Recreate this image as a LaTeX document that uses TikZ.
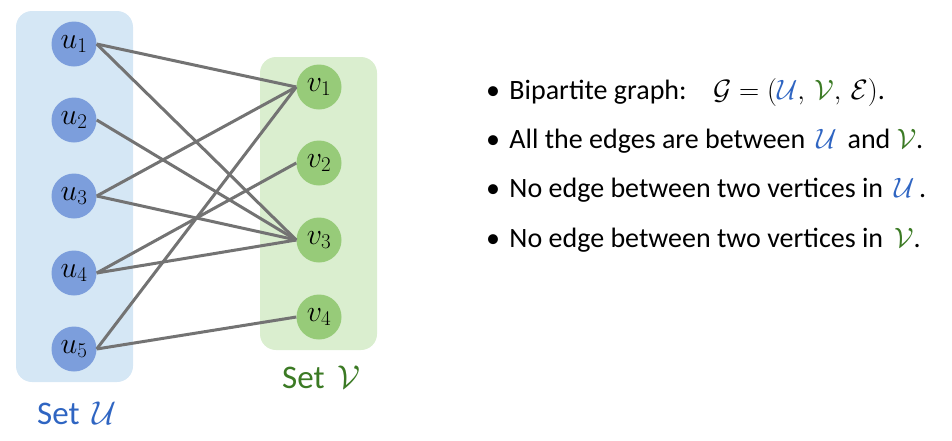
\RequirePackage{fix-cm}
\documentclass[tikz,border=0pt]{standalone}
\usepackage{amsmath,amssymb}
\usepackage{fontspec}
\setmainfont{Carlito}
\usepackage{tikz}
\usetikzlibrary{positioning}
\definecolor{setublue}{HTML}{D5E7F5}
\definecolor{setvgreen}{HTML}{DAEECF}
\definecolor{nodeblue}{HTML}{7C9EDC}
\definecolor{nodegreen}{HTML}{97CB79}
\definecolor{edgegray}{HTML}{737373}
\definecolor{labelblue}{HTML}{2F65C2}
\definecolor{labelgreen}{HTML}{3B7A24}
\tikzset{
  uvert/.style={circle,fill=nodeblue,minimum size=45pt,inner sep=0pt,font=\fontsize{30}{33}\selectfont},
  vvert/.style={circle,fill=nodegreen,minimum size=45pt,inner sep=0pt,font=\fontsize{30}{33}\selectfont},
  gedge/.style={edgegray,line width=3pt},
  setlabel/.style={anchor=base west,inner sep=0pt,font=\fontsize{33}{38}\selectfont},
  bullet/.style={anchor=base west,inner sep=0pt,font=\fontsize{28}{34}\selectfont}
}
\newcommand{\bpt}{\textbullet\hspace{3pt}\ }

\begin{document}
\begin{tikzpicture}[x=1pt,y=-1pt]
  \useasboundingbox (0,0) rectangle (952,440);
  % the two vertex sets
  \fill[setublue,rounded corners=16pt] (16,11) rectangle (133,382);
  \fill[setvgreen,rounded corners=16pt] (260,57) rectangle (377,350);
  % vertices of U
  \node[uvert] (u1) at (74,44) {$u_1$};
  \node[uvert] (u2) at (74,120) {$u_2$};
  \node[uvert] (u3) at (74,196) {$u_3$};
  \node[uvert] (u4) at (74,273) {$u_4$};
  \node[uvert] (u5) at (74,349) {$u_5$};
  % vertices of V
  \node[vvert] (v1) at (319,87) {$v_1$};
  \node[vvert] (v2) at (319,163) {$v_2$};
  \node[vvert] (v3) at (319,240) {$v_3$};
  \node[vvert] (v4) at (319,317) {$v_4$};
  % edges
  \draw[gedge] (u1.east) -- (v1.west);
  \draw[gedge] (u1.east) -- (v3.west);
  \draw[gedge] (u2.east) -- (v3.west);
  \draw[gedge] (u3.east) -- (v1.west);
  \draw[gedge] (u3.east) -- (v3.west);
  \draw[gedge] (u4.east) -- (v2.west);
  \draw[gedge] (u4.east) -- (v3.west);
  \draw[gedge] (u5.east) -- (v1.west);
  \draw[gedge] (u5.east) -- (v4.west);
  % set captions
  \node[setlabel,labelblue] (setu) at (37,424) {Set\ \,$\mathcal{U}$};
  \node[setlabel,labelgreen] (setv) at (282,388) {Set\ \,$\mathcal{V}$};
  % bullet points
  \node[bullet] (b1) at (486,99) {\bpt Bipartite graph:\hspace{18pt}
    $\mathcal{G}=(\textcolor{labelblue}{\mathcal{U}},\,\textcolor{labelgreen}{\mathcal{V}},\,\mathcal{E})$.};
  \node[bullet] (b2) at (486,148) {\bpt All the edges are between\ \,\textcolor{labelblue}{$\mathcal{U}$}\ \,and \textcolor{labelgreen}{$\mathcal{V}$}.};
  \node[bullet] (b3) at (486,197) {\bpt No edge between two vertices in\ \,\textcolor{labelblue}{$\mathcal{U}$}\,.};
  \node[bullet] (b4) at (486,247) {\bpt No edge between two vertices in\ \,\textcolor{labelgreen}{$\mathcal{V}$}.};
\end{tikzpicture}
\end{document}
